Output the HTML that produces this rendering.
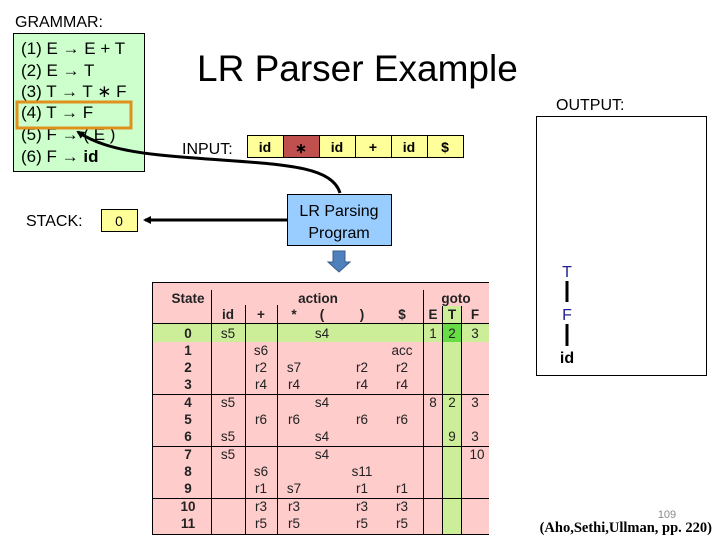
<!DOCTYPE html>
<html><head><meta charset="utf-8"><style>
html,body{margin:0;padding:0;background:#fff;}
svg{display:block;}
text{font-family:"Liberation Sans",sans-serif;}
.t{font-family:"DejaVu Sans",sans-serif;font-size:13.5px;fill:#222;text-anchor:middle;}
.b{font-weight:bold;}
</style></head><body>
<svg width="720" height="540" viewBox="0 0 720 540" xmlns="http://www.w3.org/2000/svg">
<defs>
<marker id="ah" markerWidth="8" markerHeight="8" refX="6" refY="4" orient="auto" markerUnits="userSpaceOnUse">
<path d="M0,0 L8,4 L0,8 z" fill="#000"/></marker>
</defs>
<!-- Grammar -->
<text x="15" y="27" font-size="16">GRAMMAR:</text>
<rect x="13.5" y="33.5" width="131" height="138" fill="#ccffcc" stroke="#000"/>
<g font-size="17">
<text x="21" y="54">(1) E  → E + T</text>
<text x="21" y="76">(2) E → T</text>
<text x="21" y="97">(3) T  → T ∗ F</text>
<text x="21" y="118">(4) T  → F</text>
<text x="21" y="140">(5) F  → ( E )</text>
<text x="21" y="162">(6) F  → <tspan font-weight="bold">id</tspan></text>
</g>
<rect x="17" y="102" width="114" height="26" fill="none" stroke="#e0901c" stroke-width="3"/>
<!-- Title -->
<text x="197" y="81" font-size="37">LR Parser Example</text>
<!-- Input -->
<text x="182" y="154" font-size="16">INPUT:</text>
<g stroke="#000" stroke-width="1">
<rect x="247.5" y="135.5" width="36" height="22" fill="#ffff99"/>
<rect x="283.5" y="135.5" width="36" height="22" fill="#c0504d"/>
<rect x="319.5" y="135.5" width="36" height="22" fill="#ffff99"/>
<rect x="355.5" y="135.5" width="36" height="22" fill="#ffff99"/>
<rect x="391.5" y="135.5" width="36" height="22" fill="#ffff99"/>
<rect x="427.5" y="135.5" width="36" height="22" fill="#ffff99"/>
</g>
<g font-size="14" font-weight="bold" text-anchor="middle">
<text x="265" y="152">id</text><text x="301" y="153">∗</text><text x="337" y="152">id</text>
<text x="373" y="152">+</text><text x="409" y="152">id</text><text x="445" y="152">$</text>
</g>
<!-- Stack -->
<text x="26" y="226" font-size="16">STACK:</text>
<rect x="101.5" y="209.5" width="36" height="22" fill="#ffff99" stroke="#000"/>
<text x="119" y="226" font-size="14" text-anchor="middle">0</text>
<!-- Program box -->
<rect x="287.5" y="194.5" width="104" height="51" fill="#99ccff" stroke="#000"/>
<text x="339" y="216" font-size="16" text-anchor="middle">LR Parsing</text>
<text x="339" y="238" font-size="16" text-anchor="middle">Program</text>
<line x1="287" y1="220" x2="145" y2="220" stroke="#000" stroke-width="3" marker-end="url(#ah)"/>
<path d="M340,193 C330,160 260,165 160,155 C110,150 90,140 78,132" fill="none" stroke="#000" stroke-width="3" marker-end="url(#ah)"/>
<path d="M333,251 h12 v11 h5 l-11,10 l-11,-10 h5 z" fill="#4f81bd" stroke="#385d8a" stroke-width="1"/>
<!-- Output -->
<text x="556" y="110" font-size="16">OUTPUT:</text>
<rect x="536.5" y="116.5" width="170" height="259" fill="#fff" stroke="#000"/>
<text x="567" y="277" font-size="16" fill="#1f1f8f" text-anchor="middle">T</text>
<line x1="567" y1="281" x2="567" y2="302" stroke="#000" stroke-width="3"/>
<text x="567" y="320" font-size="16" fill="#1f1f8f" text-anchor="middle">F</text>
<line x1="567" y1="324" x2="567" y2="346" stroke="#000" stroke-width="3"/>
<text x="567" y="363" font-size="16" font-weight="bold" text-anchor="middle">id</text>
<!-- Table -->
<rect x="152" y="282" width="337" height="253" fill="#ffcccc"/>
<rect x="152" y="324" width="337" height="18" fill="#ccee99"/>
<rect x="442" y="306" width="20" height="229" fill="#ccee99"/>
<rect x="442" y="324" width="20" height="18" fill="#66dd44"/>
<g stroke="#000" stroke-width="1">
<line x1="152.5" y1="282" x2="152.5" y2="535"/>
<line x1="152" y1="282.5" x2="489" y2="282.5"/>
<line x1="152" y1="323.5" x2="489" y2="323.5"/>
<line x1="152" y1="394.5" x2="489" y2="394.5"/>
<line x1="152" y1="446.5" x2="489" y2="446.5"/>
<line x1="152" y1="498.5" x2="489" y2="498.5"/>
<line x1="152" y1="534.5" x2="489" y2="534.5"/>
<line x1="211.5" y1="290" x2="211.5" y2="535"/>
<line x1="245.5" y1="305" x2="245.5" y2="535"/>
<line x1="277.5" y1="305" x2="277.5" y2="535"/>
<line x1="423.5" y1="290" x2="423.5" y2="535"/>
<line x1="442.5" y1="306" x2="442.5" y2="535"/>
<line x1="461.5" y1="306" x2="461.5" y2="535"/>
</g>
<g class="t b" style="font-size:13.5px">
<text x="188" y="303">State</text><text x="318" y="303">action</text><text x="456" y="303">goto</text>
<text x="228" y="319">id</text><text x="261" y="319">+</text><text x="294" y="319">*</text><text x="322" y="319">(</text><text x="362" y="319">)</text><text x="402" y="319">$</text>
<text x="433" y="319">E</text><text x="452" y="319">T</text><text x="475" y="319">F</text>
<text x="188" y="338">0</text><text x="188" y="355">1</text><text x="188" y="372">2</text><text x="188" y="389">3</text>
<text x="188" y="407">4</text><text x="188" y="424">5</text><text x="188" y="441">6</text>
<text x="188" y="459">7</text><text x="188" y="476">8</text><text x="188" y="493">9</text>
<text x="188" y="511">10</text><text x="188" y="528">11</text>
</g>
<g class="t">
<text x="228" y="338">s5</text><text x="322" y="338">s4</text><text x="433" y="338">1</text><text x="452" y="338">2</text><text x="475" y="338">3</text>
<text x="261" y="355">s6</text><text x="402" y="355">acc</text>
<text x="261" y="372">r2</text><text x="294" y="372">s7</text><text x="362" y="372">r2</text><text x="402" y="372">r2</text>
<text x="261" y="389">r4</text><text x="294" y="389">r4</text><text x="362" y="389">r4</text><text x="402" y="389">r4</text>
<text x="228" y="407">s5</text><text x="322" y="407">s4</text><text x="433" y="407">8</text><text x="452" y="407">2</text><text x="475" y="407">3</text>
<text x="261" y="424">r6</text><text x="294" y="424">r6</text><text x="362" y="424">r6</text><text x="402" y="424">r6</text>
<text x="228" y="441">s5</text><text x="322" y="441">s4</text><text x="452" y="441">9</text><text x="475" y="441">3</text>
<text x="228" y="459">s5</text><text x="322" y="459">s4</text><text x="477" y="459">10</text>
<text x="261" y="476">s6</text><text x="362" y="476">s11</text>
<text x="261" y="493">r1</text><text x="294" y="493">s7</text><text x="362" y="493">r1</text><text x="402" y="493">r1</text>
<text x="261" y="511">r3</text><text x="294" y="511">r3</text><text x="362" y="511">r3</text><text x="402" y="511">r3</text>
<text x="261" y="528">r5</text><text x="294" y="528">r5</text><text x="362" y="528">r5</text><text x="402" y="528">r5</text>
</g>
<!-- Footer -->
<text x="667" y="518" font-size="11" fill="#888" text-anchor="middle">109</text>
<text x="712" y="532" font-size="14.5" font-weight="bold" text-anchor="end" style="font-family:'Liberation Serif',serif">(Aho,Sethi,Ullman, pp. 220)</text>
</svg>
</body></html>
